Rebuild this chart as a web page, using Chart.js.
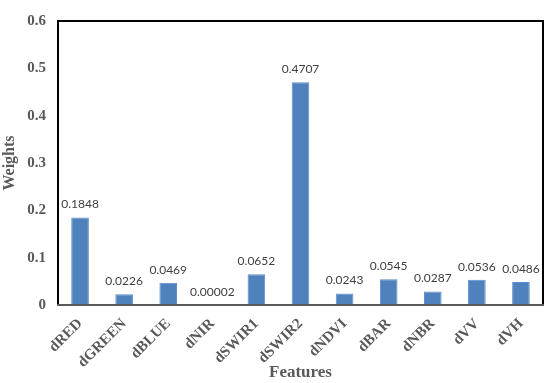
<!DOCTYPE html>
<html>
<head>
<meta charset="utf-8">
<script src="https://cdn.jsdelivr.net/npm/chart.js@4/dist/chart.umd.min.js"></script>
<style>
  html, body { margin: 0; padding: 0; background: #fff; }
  #wrap { width: 550px; height: 383px; position: relative; }
</style>
</head>
<body>
<div id="wrap"><canvas id="weights"></canvas></div>
<script>
const features = ["dRED", "dGREEN", "dBLUE", "dNIR", "dSWIR1", "dSWIR2", "dNDVI", "dBAR", "dNBR", "dVV", "dVH"];
const weights = [0.1848, 0.0226, 0.0469, 0.00002, 0.0652, 0.4707, 0.0243, 0.0545, 0.0287, 0.0536, 0.0486];
const valueLabels = ["0.1848", "0.0226", "0.0469", "0.00002", "0.0652", "0.4707", "0.0243", "0.0545", "0.0287", "0.0536", "0.0486"];

const serif = "'Liberation Serif', 'Times New Roman', serif";

// box around the plot area, gray baseline at the bottom
const frame = {
  id: 'frame',
  afterDraw(chart) {
    const { ctx, chartArea: a } = chart;
    ctx.save();
    ctx.strokeStyle = '#000';
    ctx.lineWidth = 2;
    ctx.beginPath();
    ctx.moveTo(a.left, a.bottom);
    ctx.lineTo(a.left, a.top);
    ctx.lineTo(a.right, a.top);
    ctx.lineTo(a.right, a.bottom);
    ctx.stroke();
    ctx.strokeStyle = '#595959';
    ctx.beginPath();
    ctx.moveTo(a.left - 1, a.bottom);
    ctx.lineTo(a.right + 1, a.bottom);
    ctx.stroke();
    ctx.restore();
  }
};

// value text above each bar
const barValues = {
  id: 'barValues',
  afterDatasetsDraw(chart) {
    const ctx = chart.ctx;
    const meta = chart.getDatasetMeta(0);
    ctx.save();
    ctx.font = "12px Lato, 'Open Sans', sans-serif";
    ctx.fillStyle = '#404040';
    ctx.textAlign = 'center';
    ctx.textBaseline = 'bottom';
    meta.data.forEach((bar, i) => {
      ctx.fillText(valueLabels[i], bar.x, bar.y - 7);
    });
    ctx.restore();
  }
};

new Chart(document.getElementById('weights'), {
  type: 'bar',
  data: {
    labels: features,
    datasets: [{
      data: weights,
      backgroundColor: '#4F81BD',
      borderColor: '#5a8ccb',
      borderWidth: 1,
      barPercentage: 0.4,
      categoryPercentage: 1
    }]
  },
  options: {
    responsive: true,
    maintainAspectRatio: false,
    animation: false,
    layout: { padding: { top: 10, right: 7, left: 0, bottom: 0 } },
    plugins: {
      legend: { display: false },
      tooltip: { enabled: false }
    },
    scales: {
      x: {
        grid: { display: false, drawTicks: false },
        border: { display: false },
        ticks: {
          autoSkip: false,
          minRotation: 45,
          maxRotation: 45,
          padding: 10,
          color: '#595959',
          font: { family: serif, size: 15, weight: 'bold' }
        },
        title: {
          display: true,
          text: 'Features',
          color: '#595959',
          padding: 0,
          font: { family: serif, size: 17, weight: 'bold' }
        },
        afterFit(scale) { scale.height = 78; }
      },
      y: {
        min: 0,
        max: 0.6,
        grid: { display: false, drawTicks: false },
        border: { display: false },
        ticks: {
          stepSize: 0.1,
          padding: 12,
          color: '#595959',
          font: { family: serif, size: 15, weight: 'bold' },
          callback: v => Number(v.toFixed(1)).toString()
        },
        title: {
          display: true,
          text: 'Weights',
          color: '#595959',
          padding: 0,
          font: { family: serif, size: 16, weight: 'bold' }
        },
        afterFit(scale) { scale.width = 58; }
      }
    }
  },
  plugins: [frame, barValues]
});
</script>
</body>
</html>
